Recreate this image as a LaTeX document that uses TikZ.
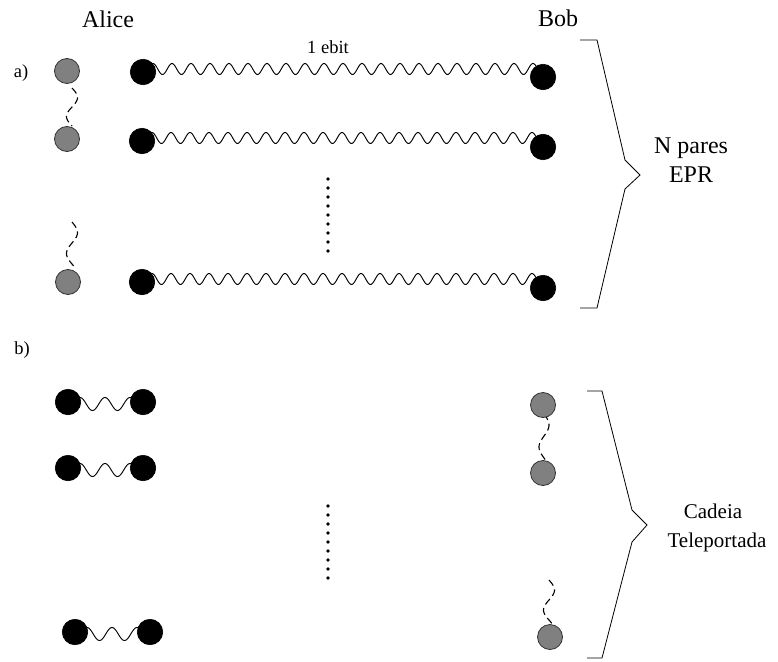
\documentclass[tikz,border=0pt]{standalone}
\usepackage{fontspec}
\setmainfont{Liberation Serif}
\definecolor{qgray}{RGB}{128,128,128}
\definecolor{qedge}{RGB}{50,50,50}
\begin{document}
\begin{tikzpicture}[x=1pt,y=-1pt,
  bdot/.style={circle,fill=black,draw=black,line width=0.6pt,minimum size=25.5pt,inner sep=0pt},
  gdot/.style={circle,fill=qgray,draw=qedge,line width=0.8pt,minimum size=25pt,inner sep=0pt},
  wave/.style={line width=0.95pt,line join=round},
  dwave/.style={line width=1.1pt,dash pattern=on 7pt off 4pt},
  big/.style={anchor=base,inner sep=0pt,font=\fontsize{24}{28}\selectfont},
  mid/.style={anchor=base,inner sep=0pt,font=\fontsize{21}{25}\selectfont},
  small/.style={anchor=base,inner sep=0pt,font=\fontsize{18.5}{22}\selectfont},
  brace/.style={line width=0.8pt,line join=miter},
  dotrow/.style={fill=black}
]
\useasboundingbox (0,0) rectangle (778,661);

% labels
\node[big] (alice) at (108,28) {Alice};
\node[big] (bob) at (558,27) {Bob};
\node[small] (la) at (21,77) {a)};
\node[small] (lb) at (22,354) {b)};
\node[small] (ebit) at (328,54) {1 ebit};
\node[big] (np) at (691,153) {N pares};
\node[big] (epr) at (691,182) {EPR};
\node[mid] (cad) at (713,518) {Cadeia};
\node[mid] (tel) at (717,547) {Teleportada};

% circle centres
\path
  (67,71) coordinate (cg1) (67,139) coordinate (cg2) (68,282) coordinate (cg3)
  (143,72) coordinate (cl1) (142,141) coordinate (cl2) (142,282) coordinate (cl3)
  (543,77) coordinate (cr1) (543,147) coordinate (cr2) (543,288) coordinate (cr3)
  (68,402) coordinate (cp1a) (143,402) coordinate (cp1b)
  (68,468) coordinate (cp2a) (143,468) coordinate (cp2b)
  (75,632) coordinate (cp3a) (150,632) coordinate (cp3b)
  (543,405) coordinate (ch1) (543,473) coordinate (ch2) (550,637) coordinate (ch3);

% long waves (a): 1 ebit each
\foreach \k in {1,2,3}{
  \coordinate (w\k s) at ([shift={(10,-3)}]cl\k);
  \draw[wave,shift={(w\k s)}] plot[domain=-5:385,samples=400] (\x,{-5.5*cos(18.947*\x)});
}
% short waves (b)
\foreach \k in {1,2,3}{
  \coordinate (v\k s) at ([shift={(12,2)}]cp\k a);
  \draw[wave,shift={(v\k s)}] plot[domain=-6:56,samples=120] (\x,{-6.5*cos(14.4*\x)});
}

% dashed waves
\coordinate (d1s) at ([shift={(5,17)}]cg1);
\draw[dwave,shift={(d1s)}] plot[variable=\t,domain=0:38,samples=60] ({5.5*sin(9.474*\t)},\t);
\coordinate (g3t) at (72,222);
\draw[dwave,shift={(g3t)}] plot[variable=\t,domain=0:44,samples=60] ({5.5*sin(8.571*\t)},\t);
\coordinate (d2s) at ([shift={(1,9)}]ch1);
\draw[dwave,shift={(d2s)}] plot[variable=\t,domain=0:46,samples=60] ({5*sin(8.182*\t)},\t);
\coordinate (h3t) at (549,580);
\draw[dwave,shift={(h3t)}] plot[variable=\t,domain=0:44,samples=60] ({5.5*sin(9*\t)},\t);

% circles
\foreach \n in {g1,g2,g3,h1,h2,h3}{ \node[gdot] (\n) at (c\n) {}; }
\foreach \n in {l1,l2,l3,r1,r2,r3,p1a,p1b,p2a,p2b,p3a,p3b}{ \node[bdot] (\n) at (c\n) {}; }

% vertical dots
\foreach \i in {0,...,8}{
  \fill[dotrow] (328,179+9*\i) circle (1.8);
  \fill[dotrow] (328,506+9*\i) circle (1.8);
}

% braces
\draw[brace] (580,40) -- (597,40) -- (625,160) -- (640,175) -- (625,189) -- (597,308) -- (580,308);
\draw[brace] (587,391) -- (602,391) -- (632,510) -- (647,525) -- (632,542) -- (602,658) -- (587,658);
\end{tikzpicture}
\end{document}
